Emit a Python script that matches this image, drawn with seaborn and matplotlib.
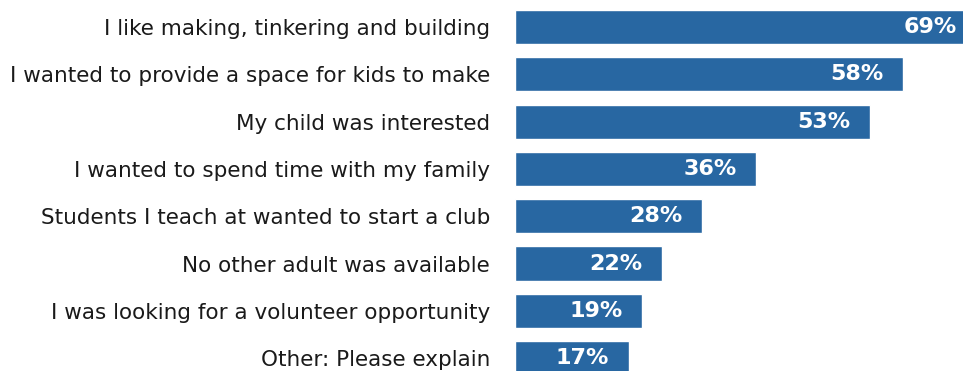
import matplotlib
matplotlib.use("Agg")
import matplotlib.pyplot as plt
import seaborn as sns
import pandas as pd

reasons = [
    "I like making, tinkering and building",
    "I wanted to provide a space for kids to make",
    "My child was interested",
    "I wanted to spend time with my family",
    "Students I teach at wanted to start a club",
    "No other adult was available",
    "I was looking for a volunteer opportunity",
    "Other: Please explain",
]
shares = [69, 58, 53, 36, 28, 22, 19, 17]

df = pd.DataFrame({"reason": reasons, "share": shares})

sns.set_theme(style="white")
plt.rcParams["font.family"] = ["DejaVu Sans"]

W, H = 963, 371
fig = plt.figure(figsize=(W / 100, H / 100), dpi=100)

# axes span from bar start to the right edge; rows are 47.3 px apart
px_per_row = 47.3
left = 515 / W
top_px = 27 - px_per_row / 2
height_px = px_per_row * len(reasons)
ax = fig.add_axes([left, 1 - (top_px + height_px) / H, 1 - left, height_px / H])

sns.barplot(data=df, x="share", y="reason", orient="h", color="#2867a2",
            saturation=1, width=0.72, ax=ax)

px_per_pct = 388 / 58
ax.set_xlim(0, (W - 515) / px_per_pct)
ax.set_ylim(len(reasons) - 0.5, -0.5)

for i, v in enumerate(shares):
    ax.annotate(f"{v}%", xy=(v, i), xytext=(-14, 0), textcoords="offset points",
                ha="right", va="center", color="white", fontsize=16,
                fontweight="bold", annotation_clip=False)

ax.set_xlabel("")
ax.set_ylabel("")
ax.set_xticks([])
ax.tick_params(axis="y", length=0, pad=18, labelsize=15.5, labelcolor="#1a1a1a")
sns.despine(ax=ax, left=True, bottom=True)

fig.savefig("out.png", dpi=100)
